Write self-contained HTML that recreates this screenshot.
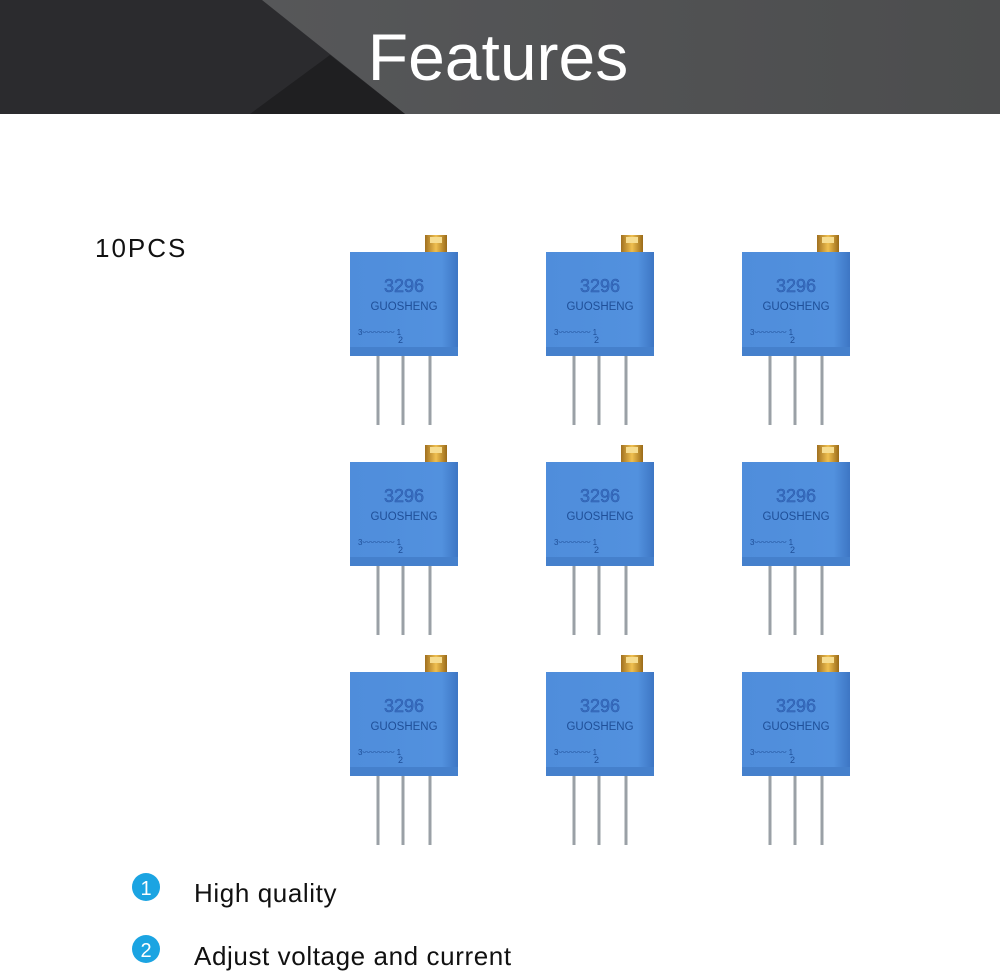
<!DOCTYPE html>
<html><head><meta charset="utf-8"><style>
html,body{margin:0;padding:0;background:#fff;}
svg{display:block}
</style></head><body>
<svg width="1000" height="973" viewBox="0 0 1000 973" xmlns="http://www.w3.org/2000/svg" font-family="Liberation Sans, sans-serif">
<defs>
<linearGradient id="bg" x1="0" y1="0" x2="1" y2="0"><stop offset="0" stop-color="#5a5b5d"/><stop offset="1" stop-color="#4c4d4e"/></linearGradient>
<linearGradient id="bl" x1="0" y1="0" x2="1" y2="0"><stop offset="0" stop-color="#4f8ddb"/><stop offset="0.85" stop-color="#5291de"/><stop offset="1" stop-color="#3d76c4"/></linearGradient>
<linearGradient id="gd" x1="0" y1="0" x2="1" y2="0"><stop offset="0" stop-color="#a07020"/><stop offset="0.5" stop-color="#f0c050"/><stop offset="1" stop-color="#9a6a18"/></linearGradient>
<g id="pot">
<rect x="75" y="0" width="22" height="18" fill="url(#gd)"/>
<rect x="80" y="2" width="12" height="6" fill="#f7dd90"/>
<line x1="28" y1="100" x2="28" y2="190" stroke="#9aa0a6" stroke-width="3"/>
<line x1="53" y1="100" x2="53" y2="190" stroke="#9aa0a6" stroke-width="3"/>
<line x1="80" y1="100" x2="80" y2="190" stroke="#9aa0a6" stroke-width="3"/>
<rect x="0" y="17" width="108" height="104" fill="url(#bl)"/>
<rect x="0" y="112" width="108" height="9" fill="#4580cc"/>
</g>
</defs>
<rect x="0" y="0" width="1000" height="114" fill="url(#bg)"/>
<polygon points="0,0 262,0 405,114 0,114" fill="#2b2b2e"/>
<polygon points="250,114 330,55 405,114" fill="#1f1f21"/>
<text x="498" y="80" text-anchor="middle" font-size="66" fill="#fff">Features</text>
<text x="95" y="257" font-size="26" letter-spacing="2" fill="#111">10PCS</text>

<g>
<g transform="translate(350,235)"><use href="#pot"/><text x="54" y="57" text-anchor="middle" font-size="18" fill="#3a70c4" stroke="#2a5aa8" stroke-width="0.5">3296</text><text x="54" y="75" text-anchor="middle" font-size="11.5" fill="#1f4f98">GUOSHENG</text><text x="8" y="100" font-size="8" fill="#1f4f98">3〰〰〰〰 1</text><text x="48" y="108" font-size="9" fill="#1f4f98">2</text></g>
<g transform="translate(546,235)"><use href="#pot"/><text x="54" y="57" text-anchor="middle" font-size="18" fill="#3a70c4" stroke="#2a5aa8" stroke-width="0.5">3296</text><text x="54" y="75" text-anchor="middle" font-size="11.5" fill="#1f4f98">GUOSHENG</text><text x="8" y="100" font-size="8" fill="#1f4f98">3〰〰〰〰 1</text><text x="48" y="108" font-size="9" fill="#1f4f98">2</text></g>
<g transform="translate(742,235)"><use href="#pot"/><text x="54" y="57" text-anchor="middle" font-size="18" fill="#3a70c4" stroke="#2a5aa8" stroke-width="0.5">3296</text><text x="54" y="75" text-anchor="middle" font-size="11.5" fill="#1f4f98">GUOSHENG</text><text x="8" y="100" font-size="8" fill="#1f4f98">3〰〰〰〰 1</text><text x="48" y="108" font-size="9" fill="#1f4f98">2</text></g>
<g transform="translate(350,445)"><use href="#pot"/><text x="54" y="57" text-anchor="middle" font-size="18" fill="#3a70c4" stroke="#2a5aa8" stroke-width="0.5">3296</text><text x="54" y="75" text-anchor="middle" font-size="11.5" fill="#1f4f98">GUOSHENG</text><text x="8" y="100" font-size="8" fill="#1f4f98">3〰〰〰〰 1</text><text x="48" y="108" font-size="9" fill="#1f4f98">2</text></g>
<g transform="translate(546,445)"><use href="#pot"/><text x="54" y="57" text-anchor="middle" font-size="18" fill="#3a70c4" stroke="#2a5aa8" stroke-width="0.5">3296</text><text x="54" y="75" text-anchor="middle" font-size="11.5" fill="#1f4f98">GUOSHENG</text><text x="8" y="100" font-size="8" fill="#1f4f98">3〰〰〰〰 1</text><text x="48" y="108" font-size="9" fill="#1f4f98">2</text></g>
<g transform="translate(742,445)"><use href="#pot"/><text x="54" y="57" text-anchor="middle" font-size="18" fill="#3a70c4" stroke="#2a5aa8" stroke-width="0.5">3296</text><text x="54" y="75" text-anchor="middle" font-size="11.5" fill="#1f4f98">GUOSHENG</text><text x="8" y="100" font-size="8" fill="#1f4f98">3〰〰〰〰 1</text><text x="48" y="108" font-size="9" fill="#1f4f98">2</text></g>
<g transform="translate(350,655)"><use href="#pot"/><text x="54" y="57" text-anchor="middle" font-size="18" fill="#3a70c4" stroke="#2a5aa8" stroke-width="0.5">3296</text><text x="54" y="75" text-anchor="middle" font-size="11.5" fill="#1f4f98">GUOSHENG</text><text x="8" y="100" font-size="8" fill="#1f4f98">3〰〰〰〰 1</text><text x="48" y="108" font-size="9" fill="#1f4f98">2</text></g>
<g transform="translate(546,655)"><use href="#pot"/><text x="54" y="57" text-anchor="middle" font-size="18" fill="#3a70c4" stroke="#2a5aa8" stroke-width="0.5">3296</text><text x="54" y="75" text-anchor="middle" font-size="11.5" fill="#1f4f98">GUOSHENG</text><text x="8" y="100" font-size="8" fill="#1f4f98">3〰〰〰〰 1</text><text x="48" y="108" font-size="9" fill="#1f4f98">2</text></g>
<g transform="translate(742,655)"><use href="#pot"/><text x="54" y="57" text-anchor="middle" font-size="18" fill="#3a70c4" stroke="#2a5aa8" stroke-width="0.5">3296</text><text x="54" y="75" text-anchor="middle" font-size="11.5" fill="#1f4f98">GUOSHENG</text><text x="8" y="100" font-size="8" fill="#1f4f98">3〰〰〰〰 1</text><text x="48" y="108" font-size="9" fill="#1f4f98">2</text></g>
</g>

<circle cx="146" cy="887" r="14" fill="#1ba4e2"/>
<text x="146" y="895" text-anchor="middle" font-size="20" fill="#fff">1</text>
<text x="194" y="902" font-size="26" letter-spacing="0.6" fill="#111">High quality</text>
<circle cx="146" cy="949" r="14" fill="#1ba4e2"/>
<text x="146" y="957" text-anchor="middle" font-size="20" fill="#fff">2</text>
<text x="194" y="965" font-size="26" letter-spacing="0.6" fill="#111">Adjust voltage and current</text>
</svg>
</body></html>
